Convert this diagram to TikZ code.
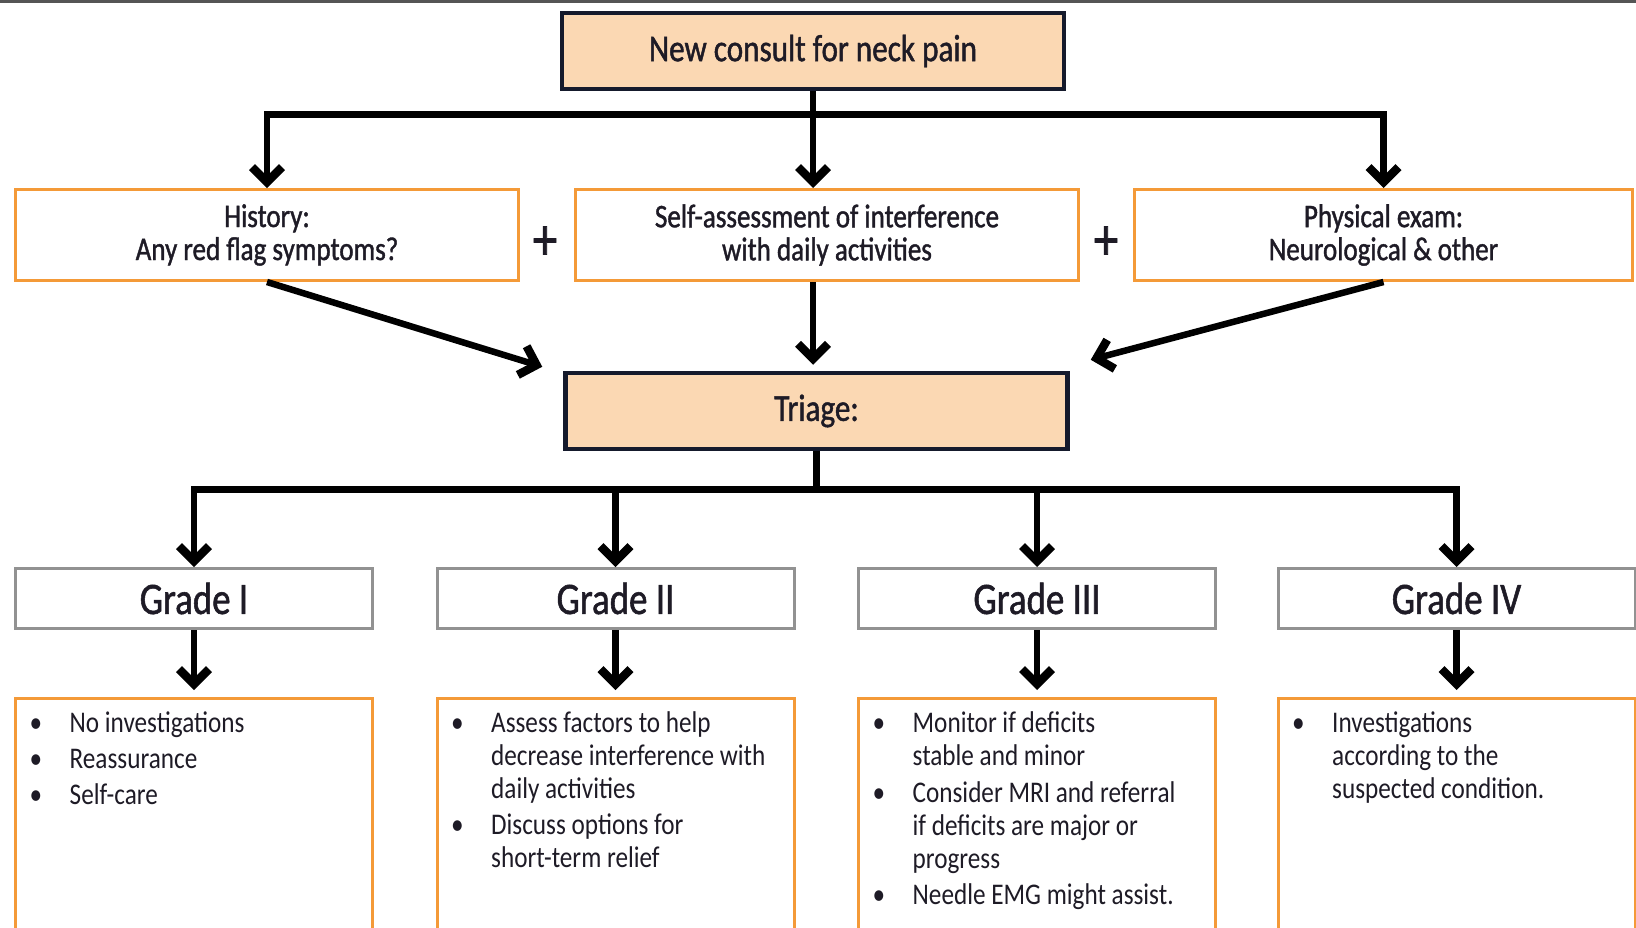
\documentclass[tikz,border=0pt]{standalone}
\usepackage{fontspec}
\setmainfont{Carlito}[FakeStretch=0.84]
\newfontfamily\headfont{Carlito}[FakeStretch=0.82, FakeBold=1.2]
\usetikzlibrary{arrows.meta,calc}
\definecolor{peach}{HTML}{FBD8B3}
\definecolor{boxorange}{HTML}{F49A38}
\definecolor{navy}{HTML}{151A2C}
\definecolor{gradegray}{HTML}{929292}
\definecolor{ink}{HTML}{1E1B26}
\definecolor{frameline}{HTML}{555555}
\begin{document}
\begin{tikzpicture}[x=1pt,y=-1pt,
  keybox/.style={draw=navy, line width=4.5pt, fill=peach, minimum width=502pt,
    minimum height=76pt, inner sep=0pt, font=\headfont\fontsize{38}{40}\selectfont, text=ink},
  askbox/.style={draw=boxorange, line width=3pt, fill=white, minimum height=91pt,
    inner sep=0pt, align=center, font=\headfont\fontsize{33}{33}\selectfont, text=ink},
  gradebox/.style={draw=gradegray, line width=3pt, minimum width=357pt,
    minimum height=60pt, inner sep=0pt, font=\headfont\fontsize{45}{48}\selectfont, text=ink},
  planbox/.style={draw=boxorange, line width=3pt, minimum width=357pt,
    minimum height=270pt, inner sep=0pt},
  plantext/.style={anchor=base west, inner sep=0pt, font=\fontsize{30}{33}\selectfont,
    text=ink},
  plussign/.style={font=\headfont\fontsize{60}{60}\selectfont, text=ink, inner sep=0pt},
  flow/.style={line width=6.5pt, -{Straight Barb[length=15pt,width=30pt,line width=0pt 1.3]}},
  link/.style={line width=6.5pt},
]
\useasboundingbox (0,0) rectangle (1636,927);
\clip (0,0) rectangle (1636,927);
\fill[white] (0,0) rectangle (1636,927);
\draw[line width=3pt, frameline] (0,1.5) -- (1636,1.5);

% start and triage
\node[keybox] (consult) at (813,51) {New consult for neck pain};
\node[keybox] (triage) at (816.5,411) {Triage:};

% assessment row
\node[askbox, minimum width=503pt] (hist) at (267,235) {History:\\Any red flag symptoms?};
\node[askbox, minimum width=503pt] (self) at (827,235) {Self-assessment of interference\\with daily activities};
\node[askbox, minimum width=498pt] (phys) at (1383.5,235) {Physical exam:\\Neurological \& other};
\node[plussign] (plusA) at (545,243) {+};
\node[plussign] (plusB) at (1106,243) {+};

% grades
\node[gradebox] (g1) at (194,598.5) {Grade I};
\node[gradebox] (g2) at (615.5,598.5) {Grade II};
\node[gradebox] (g3) at (1037,598.5) {Grade III};
\node[gradebox] (g4) at (1456.5,598.5) {Grade IV};

% plans per grade
\node[planbox] (p1) at (194,833.5) {};
\node[planbox] (p2) at (615.5,833.5) {};
\node[planbox] (p3) at (1037,833.5) {};
\node[planbox] (p4) at (1456.5,833.5) {};

\node[plantext] (t1) at ($(p1.north west)+(15.5,35.5)$) {%
  \begin{tabular}[t]{@{}p{40pt}@{}l@{}}
  \textbullet & No investigations\\[3pt]
  \textbullet & Reassurance\\[3pt]
  \textbullet & Self-care
  \end{tabular}};
\node[plantext] (t2) at ($(p2.north west)+(15.5,35.5)$) {%
  \begin{tabular}[t]{@{}p{40pt}@{}l@{}}
  \textbullet & Assess factors to help\\
   & decrease interference with\\
   & daily activities\\[3pt]
  \textbullet & Discuss options for\\
   & short-term relief
  \end{tabular}};
\node[plantext] (t3) at ($(p3.north west)+(15.5,35.5)$) {%
  \begin{tabular}[t]{@{}p{40pt}@{}l@{}}
  \textbullet & Monitor if deficits\\
   & stable and minor\\[4pt]
  \textbullet & Consider MRI and referral\\
   & if deficits are major or\\
   & progress\\[3pt]
  \textbullet & Needle EMG might assist.
  \end{tabular}};
\node[plantext] (t4) at ($(p4.north west)+(15.5,35.5)$) {%
  \begin{tabular}[t]{@{}p{40pt}@{}l@{}}
  \textbullet & Investigations\\
   & according to the\\
   & suspected condition.
  \end{tabular}};

% connectors from the start box
\coordinate (topbus) at ($(consult.south)+(0,23)$);
\draw[link] (consult.south) -- (topbus);
\draw[flow] (topbus) -| (hist.north);
\draw[flow] (topbus) -| (phys.north);
\draw[flow] (topbus) -- (topbus |- self.north);

% connectors into triage
\coordinate (histin) at ($(triage.north west)+(-21,-4)$);
\coordinate (selfin) at ($(topbus |- triage.north)+(0,-6)$);
\coordinate (physin) at ($(triage.north east)+(21,-11)$);
\draw[flow] (hist.south) -- (histin);
\draw[flow] (self.south -| topbus) -- (selfin);
\draw[flow] (phys.south) -- (physin);

% connectors from triage to the grades
\coordinate (lowbus) at ($(triage.south)+(0,38)$);
\draw[link] (triage.south) -- (lowbus);
\draw[flow] (lowbus) -| (g1.north);
\draw[flow] (lowbus) -| (g2.north);
\draw[flow] (lowbus) -| (g3.north);
\draw[flow] (lowbus) -| (g4.north);

% grade to plan
\draw[flow, shorten >=7pt] (g1.south) -- (p1.north);
\draw[flow, shorten >=7pt] (g2.south) -- (p2.north);
\draw[flow, shorten >=7pt] (g3.south) -- (p3.north);
\draw[flow, shorten >=7pt] (g4.south) -- (p4.north);
\end{tikzpicture}
\end{document}
